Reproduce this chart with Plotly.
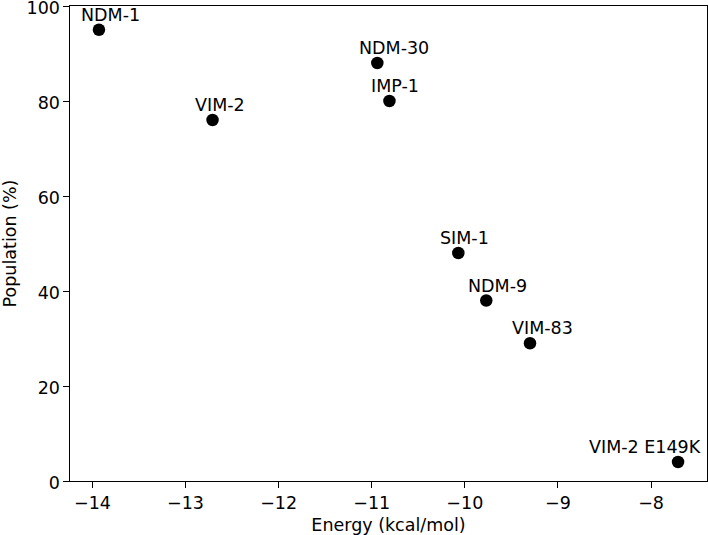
import plotly.graph_objects as go

names = ["NDM-1", "VIM-2", "NDM-30", "IMP-1", "SIM-1", "NDM-9", "VIM-83", "VIM-2 E149K"]
energy = [-13.93, -12.71, -10.94, -10.81, -10.07, -9.77, -9.30, -7.71]
population = [95, 76, 88, 80, 48, 38, 29, 4]
x_ticks = [-14, -13, -12, -11, -10, -9, -8]
y_ticks = [0, 20, 40, 60, 80, 100]

FONT = "DejaVu Sans"
FS = 17.5

# right-aligned labels (style)
right_aligned = {"VIM-2 E149K"}

fig = go.Figure()
fig.add_trace(go.Scatter(
    x=energy, y=population, mode="markers",
    marker=dict(color="black", size=12.5, line=dict(width=0)),
    hoverinfo="skip", showlegend=False, cliponaxis=False,
))

for n, xv, yv in zip(names, energy, population):
    if n in right_aligned:
        fig.add_annotation(x=xv, y=yv, text=n, showarrow=False,
                           xanchor="right", yanchor="bottom", xshift=24.5, yshift=3,
                           font=dict(family=FONT, size=FS, color="black"))
    else:
        fig.add_annotation(x=xv, y=yv, text=n, showarrow=False,
                           xanchor="left", yanchor="bottom", xshift=-20, yshift=3,
                           font=dict(family=FONT, size=FS, color="black"))

xmin, xmax = min(energy), max(energy)
pad = 0.05 * (xmax - xmin)

axis_common = dict(
    showline=True, mirror=True, linecolor="black", linewidth=1.1,
    ticks="outside", ticklen=5.5, tickwidth=1.1, tickcolor="black",
    showgrid=False, zeroline=False, automargin=False,
    ticklabeloverflow="allow",
    tickfont=dict(family=FONT, size=FS, color="black"),
)

fig.update_xaxes(range=[xmin - pad, xmax + pad], tickvals=x_ticks,
                 title=dict(text="Energy (kcal/mol)", font=dict(family=FONT, size=FS, color="black"), standoff=9),
                 **axis_common)
fig.update_yaxes(range=[0, 100], tickvals=y_ticks, ticklabelshift=2,
                 title=dict(text="Population (%)", font=dict(family=FONT, size=FS, color="black"), standoff=22),
                 **axis_common)

fig.update_layout(
    width=708, height=535,
    margin=dict(l=70, r=1, t=6, b=54),
    plot_bgcolor="white", paper_bgcolor="white",
    font=dict(family=FONT, size=FS, color="black"),
)

fig.write_html("out.html", config={"displayModeBar": False},
               post_script="document.body.style.margin='0';document.body.style.padding='0';")
